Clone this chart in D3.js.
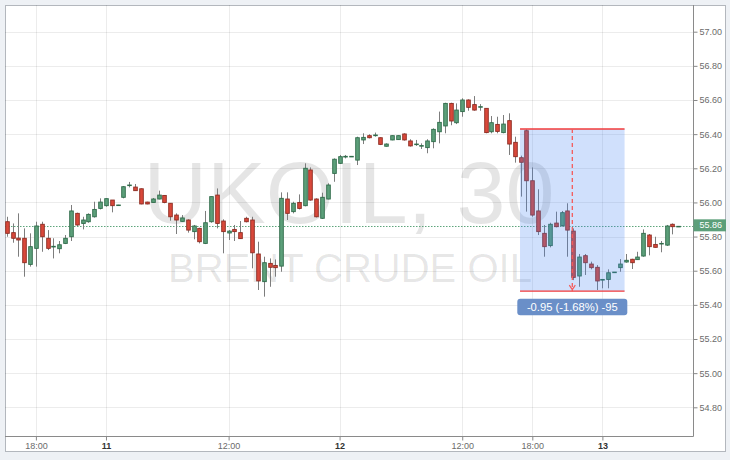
<!DOCTYPE html>
<html><head><meta charset="utf-8">
<script src="https://cdn.jsdelivr.net/npm/d3@7"></script>
<style>
html,body{margin:0;padding:0;background:#eef1f5;}
svg{display:block;font-family:"Liberation Sans",Arial,sans-serif;}
</style></head><body>
<svg id="c" width="730" height="460"></svg>
<script>
// ---- data (30-minute candles, UKOIL) ----
const openP = [55.887,55.823,55.791,55.790,55.637,55.731,55.872,55.790,55.739,55.729,
55.760,55.799,55.936,55.877,55.887,55.916,55.965,55.981,56.014,55.984,
56.030,56.100,56.090,56.080,56.002,56.000,56.020,56.041,55.995,55.926,
55.889,55.897,55.829,55.848,55.760,55.887,56.043,55.891,55.821,55.842,
55.823,55.907,55.897,55.698,55.536,55.643,55.631,55.627,56.020,55.946,
56.000,55.981,56.190,56.020,55.907,56.020,56.170,56.229,56.266,56.268,
56.248,56.366,56.391,56.391,56.379,56.329,56.366,56.368,56.401,56.360,
56.340,56.331,56.321,56.356,56.414,56.448,56.580,56.467,56.532,56.600,
56.573,56.559,56.551,56.414,56.457,56.409,56.479,56.352,56.262,56.420,
56.127,55.950,55.819,55.747,55.879,55.864,55.950,55.832,55.569,55.688,
55.639,55.620,55.545,55.549,55.590,55.618,55.651,55.667,55.665,55.686,
55.809,55.754,55.758,55.750,55.872,55.860];
const highP = [55.916,55.877,55.936,55.848,55.819,55.887,55.887,55.838,55.790,55.774,
55.809,55.985,55.940,55.916,55.936,56.004,56.024,56.024,56.014,55.986,
56.096,56.120,56.108,56.082,56.004,56.026,56.069,56.043,55.995,55.936,
55.926,55.901,55.868,55.852,55.950,56.034,56.082,55.901,55.838,55.868,
55.891,55.916,55.916,55.770,55.682,55.672,55.666,56.059,56.059,56.004,
56.047,56.229,56.205,56.024,56.057,56.112,56.258,56.278,56.278,56.272,
56.385,56.405,56.399,56.409,56.381,56.346,56.393,56.393,56.405,56.370,
56.366,56.346,56.370,56.434,56.532,56.584,56.584,56.580,56.610,56.604,
56.623,56.576,56.551,56.506,56.502,56.512,56.522,56.385,56.274,56.428,
56.205,56.077,55.868,55.881,55.946,55.950,55.995,55.848,55.698,55.698,
55.653,55.633,55.549,55.608,55.592,55.668,55.698,55.670,55.711,55.842,
55.815,55.799,55.774,55.868,55.877,55.862];
const lowP = [55.799,55.764,55.682,55.565,55.624,55.624,55.711,55.721,55.672,55.702,
55.756,55.774,55.862,55.842,55.881,55.911,55.959,55.975,55.942,55.983,
56.024,56.088,56.069,55.989,55.989,56.000,56.018,55.995,55.893,55.815,
55.887,55.823,55.784,55.760,55.756,55.881,55.848,55.702,55.780,55.774,
55.786,55.883,55.614,55.487,55.448,55.506,55.565,55.594,55.897,55.936,
55.959,55.977,56.010,55.912,55.903,56.018,56.121,56.225,56.258,56.266,
56.219,56.342,56.375,56.385,56.336,56.327,56.364,56.366,56.362,56.327,
56.331,56.313,56.288,56.317,56.346,56.405,56.452,56.459,56.502,56.537,
56.537,56.537,56.405,56.405,56.405,56.405,56.278,56.233,56.034,55.946,
55.916,55.809,55.682,55.737,55.854,55.858,55.682,55.545,55.506,55.575,
55.608,55.487,55.497,55.497,55.590,55.594,55.647,55.610,55.663,55.682,
55.690,55.735,55.708,55.745,55.813,55.858];
const closeP = [55.819,55.790,55.780,55.647,55.741,55.862,55.799,55.731,55.743,55.752,
55.790,55.950,55.868,55.897,55.930,55.959,56.002,56.022,55.981,55.985,
56.092,56.102,56.069,55.991,55.991,56.020,56.043,56.000,55.916,55.897,
55.909,55.838,55.862,55.770,55.881,56.034,55.877,55.829,55.832,55.829,
55.788,55.887,55.705,55.540,55.647,55.620,55.618,56.024,55.936,55.995,
55.965,56.200,56.014,55.916,56.030,56.102,56.253,56.268,56.270,56.270,
56.379,56.381,56.379,56.395,56.340,56.342,56.391,56.391,56.366,56.331,
56.342,56.333,56.360,56.428,56.469,56.580,56.477,56.541,56.600,56.557,
56.541,56.561,56.409,56.467,56.416,56.459,56.342,56.268,56.235,56.127,
55.926,55.829,55.741,55.872,55.858,55.940,55.838,55.561,55.680,55.647,
55.618,55.540,55.549,55.588,55.592,55.639,55.661,55.647,55.680,55.819,
55.741,55.737,55.760,55.862,55.858,55.860];

const xTickIndex  = [5, 17, 38, 57, 78, 90, 102];
const xTickLabels = ["18:00", "11", "12:00", "12", "12:00", "18:00", "13"];
const xTickBold   = [false, true, false, true, false, false, true];
const yTickValues = [54.80, 55.00, 55.20, 55.40, 55.60, 55.80, 56.00, 56.20, 56.40, 56.60, 56.80, 57.00];
const lastPrice = 55.86;
const measureFrom = 87.9, measureTo = 105.8;      // candle index positions
const measureHigh = 56.43, measureLow = 55.48;    // price levels
const symbolText = "UKOIL, 30";
const descText = "BRENT CRUDE OIL";

// ---- layout ----
const svg = d3.select("#c");
const plot = {l: 5, r: 693, t: 5, b: 436};
const x = d3.scaleLinear().domain([0, openP.length - 1]).range([6.7, 678.3]);
const y = d3.scaleLinear().domain([54.8, 57.0]).range([407.3, 31.7]);

const candles = openP.map((o, i) => ({i, o, h: highP[i], l: lowP[i], c: closeP[i]}));

svg.append("defs").append("clipPath").attr("id", "clip")
  .append("rect").attr("x", plot.l).attr("y", plot.t)
  .attr("width", plot.r - plot.l).attr("height", plot.b - plot.t);

// panel
svg.append("rect").attr("x", 5.5).attr("y", 5.5).attr("width", 720).attr("height", 446)
  .attr("fill", "#fff").attr("stroke", "#b3b7bd");

const g = svg.append("g").attr("clip-path", "url(#clip)");

// watermark
g.append("text").attr("x", 349).attr("y", 223).attr("text-anchor", "middle")
  .attr("font-size", 88).attr("fill", "#000").attr("fill-opacity", 0.1).text(symbolText);
g.append("text").attr("x", 350).attr("y", 281.5).attr("text-anchor", "middle")
  .attr("font-size", 40).attr("fill", "#000").attr("fill-opacity", 0.1).text(descText);

// grid
g.selectAll("line.hg").data(yTickValues).join("line").attr("class", "hg")
  .attr("x1", plot.l).attr("x2", plot.r)
  .attr("y1", d => Math.round(y(d)) + 0.5).attr("y2", d => Math.round(y(d)) + 0.5)
  .attr("stroke", "#000").attr("stroke-opacity", 0.075);
g.selectAll("line.vg").data(xTickIndex).join("line").attr("class", "vg")
  .attr("y1", plot.t).attr("y2", plot.b)
  .attr("x1", d => Math.round(x(d)) + 0.5).attr("x2", d => Math.round(x(d)) + 0.5)
  .attr("stroke", "#000").attr("stroke-opacity", 0.075);

// last price dotted line
g.append("line").attr("x1", plot.l).attr("x2", plot.r)
  .attr("y1", Math.round(y(lastPrice)) + 0.5).attr("y2", Math.round(y(lastPrice)) + 0.5)
  .attr("stroke", "#5ea57c").attr("stroke-dasharray", "1.5,1.5").attr("stroke-width", 1);

// candles
const cg = g.append("g");
cg.selectAll("line.wick").data(candles).join("line").attr("class", "wick")
  .attr("x1", d => Math.round(x(d.i)) + 0.5).attr("x2", d => Math.round(x(d.i)) + 0.5)
  .attr("y1", d => y(d.h)).attr("y2", d => y(d.l))
  .attr("stroke", "#7d7d7d").attr("stroke-width", 1);
const bw = 3.6;
cg.selectAll("rect.body").data(candles).join("rect").attr("class", "body")
  .attr("x", d => Math.round(x(d.i)) + 0.5 - bw / 2)
  .attr("y", d => y(Math.max(d.o, d.c)))
  .attr("width", bw)
  .attr("height", d => Math.max(0.6, y(Math.min(d.o, d.c)) - y(Math.max(d.o, d.c))))
  .attr("fill", d => d.c >= d.o ? "#5c9f7a" : "#d9483a")
  .attr("stroke", d => d.c >= d.o ? "#2f6b4a" : "#8c2c22")
  .attr("stroke-width", 0.9);

// measurement tool
const mx1 = x(measureFrom), mx2 = x(measureTo), mxm = x((measureFrom + measureTo) / 2);
const my1 = y(measureHigh), my2 = y(measureLow);
g.append("rect").attr("x", mx1).attr("y", my1).attr("width", mx2 - mx1).attr("height", my2 - my1)
  .attr("fill", "rgb(66,133,244)").attr("fill-opacity", 0.25);
g.selectAll("line.mh").data([measureHigh, measureLow]).join("line").attr("class", "mh")
  .attr("x1", mx1).attr("x2", mx2).attr("y1", d => y(d)).attr("y2", d => y(d))
  .attr("stroke", "#f23b3b").attr("stroke-width", 1.3);
g.append("line").attr("x1", mxm).attr("x2", mxm).attr("y1", my1).attr("y2", my2)
  .attr("stroke", "#f55a5a").attr("stroke-width", 1.3).attr("stroke-dasharray", "4,3");
g.append("path").attr("d", `M${mxm - 3},${my2 - 6} L${mxm},${my2 - 1.5} L${mxm + 3},${my2 - 6}`)
  .attr("fill", "none").attr("stroke", "#f55a5a").attr("stroke-width", 1.2);

const diff = measureLow - measureHigh;
const pct = diff / measureHigh * 100;
const pips = Math.round(diff * 100);
const label = `${diff.toFixed(2)} (${pct.toFixed(2)}%) ${pips}`;
svg.append("rect").attr("x", mxm - 55).attr("y", my2 + 7.5).attr("width", 110).attr("height", 16.5)
  .attr("rx", 3).attr("fill", "#6a8fc8");
svg.append("text").attr("x", mxm).attr("y", my2 + 19.8).attr("text-anchor", "middle")
  .attr("font-size", 11.2).attr("fill", "#fff").text(label);

// axes
const yAxis = d3.axisRight(y).tickValues(yTickValues).tickSize(4).tickPadding(2)
  .tickFormat(d3.format(".2f"));
const ya = svg.append("g").attr("transform", `translate(${plot.r + 0.5},0)`).call(yAxis);
ya.select(".domain").remove();
ya.selectAll(".tick line").attr("stroke", "#888");
ya.selectAll(".tick text").attr("font-size", 9).attr("fill", "#6b6b6b")
  .attr("font-family", "Liberation Sans, Arial, sans-serif");

const xAxis = d3.axisBottom(x).tickValues(xTickIndex).tickSize(4).tickPadding(2)
  .tickFormat((d, i) => xTickLabels[i]);
const xa = svg.append("g").attr("transform", `translate(0,${plot.b + 0.5})`).call(xAxis);
xa.select(".domain").remove();
xa.selectAll(".tick line").attr("stroke", "#888");
xa.selectAll(".tick text").attr("font-size", 9)
  .attr("font-family", "Liberation Sans, Arial, sans-serif")
  .attr("fill", (d, i) => xTickBold[i] ? "#333" : "#6b6b6b")
  .attr("font-weight", (d, i) => xTickBold[i] ? "bold" : "normal");

// plot frame (right & bottom axis lines)
svg.append("path").attr("d", `M${plot.r + 0.5},${plot.t} V${plot.b + 0.5} H${plot.l}`)
  .attr("fill", "none").attr("stroke", "#8a8a8a").attr("stroke-width", 1);

// last price label
const ly = y(lastPrice);
svg.append("rect").attr("x", plot.r + 0.5).attr("y", ly - 7).attr("width", 32.5).attr("height", 12)
  .attr("fill", "#5c9f7a");
svg.append("text").attr("x", plot.r + 6.5).attr("y", ly - 1).attr("dy", "0.35em")
  .attr("font-size", 9).attr("fill", "#fff").text(lastPrice.toFixed(2));
</script>
</body></html>
